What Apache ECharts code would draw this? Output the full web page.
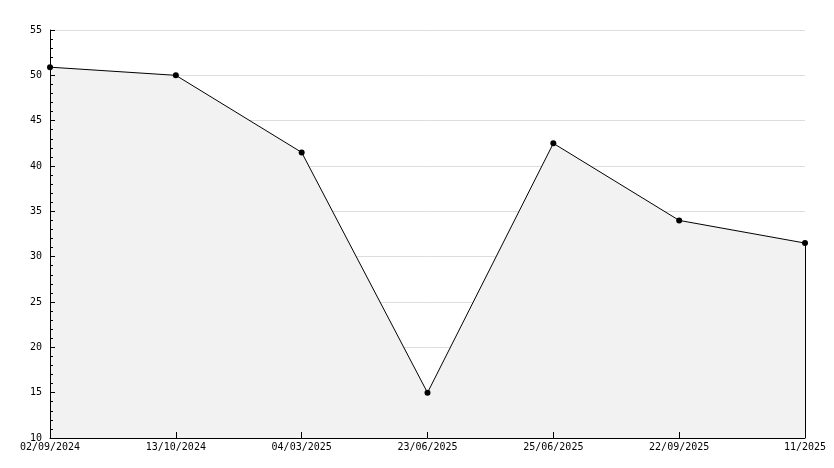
<!DOCTYPE html>
<html>
<head>
<meta charset="utf-8">
<script src="https://cdn.jsdelivr.net/npm/echarts@6/dist/echarts.min.js"></script>
<style>
  html, body { margin: 0; padding: 0; background: #fff; }
  #chart { width: 834px; height: 468px; }
</style>
</head>
<body>
<div id="chart"></div>
<script>
const categories = ['02/09/2024', '13/10/2024', '04/03/2025', '23/06/2025', '25/06/2025', '22/09/2025', '11/2025']
const values = [50.9, 50.0, 41.5, 15.0, 42.5, 34.0, 31.5]
const yMin = 10
const yMax = 55

const myChart = echarts.init(document.getElementById('chart'))
const lastIdx = values.length - 1
const option = {
  animation: false,
  textStyle: { fontFamily: 'DejaVu Sans Mono', fontSize: 10, color: '#000' },
  grid: {
    left: 50,
    right: 29,
    top: 30,
    bottom: 30
  },
  xAxis: {
    type: 'category',
    boundaryGap: false,
    data: categories,
    zlevel: 1,
    z: 5,
    axisLine: { lineStyle: { color: '#000', width: 1 } },
    axisTick: { inside: true, length: 6, lineStyle: { color: '#000' } },
    axisLabel: { color: '#000', fontFamily: 'DejaVu Sans Mono', fontSize: 10, margin: 4, interval: 0 },
    splitLine: { show: false }
  },
  yAxis: [
    {
      // axis line, ticks and labels above the area
      type: 'value',
      min: yMin,
      max: yMax,
      interval: 5,
      zlevel: 1,
      z: 5,
      axisLine: { show: true, lineStyle: { color: '#000', width: 1 } },
      axisTick: { show: true, inside: true, length: 5, lineStyle: { color: '#000' } },
      minorTick: { show: true, splitNumber: 5, length: 3, lineStyle: { color: '#000' } },
      axisLabel: { color: '#000', fontFamily: 'DejaVu Sans Mono', fontSize: 10, margin: 8 },
      splitLine: { show: false }
    },
    {
      // grid lines only, under the area
      type: 'value',
      min: yMin,
      max: yMax,
      interval: 5,
      position: 'left',
      zlevel: 0,
      axisLine: { show: false },
      axisTick: { show: false },
      axisLabel: { show: false },
      splitLine: { show: true, lineStyle: { color: '#dddddd', width: 1 } }
    }
  ],
  series: [
    {
      type: 'line',
      data: values,
      zlevel: 1,
      z: 2,
      symbol: 'circle',
      symbolSize: 6,
      itemStyle: { color: '#000' },
      lineStyle: { color: '#000', width: 1 },
      areaStyle: { color: '#f2f2f2', opacity: 1 },
      markLine: {
        silent: true,
        symbol: 'none',
        label: { show: false },
        lineStyle: { color: '#000', width: 1, type: 'solid' },
        data: [
          [
            { coord: [categories[lastIdx], values[lastIdx]] },
            { coord: [categories[lastIdx], yMin] }
          ]
        ]
      }
    }
  ]
}
myChart.setOption(option)
</script>
</body>
</html>
